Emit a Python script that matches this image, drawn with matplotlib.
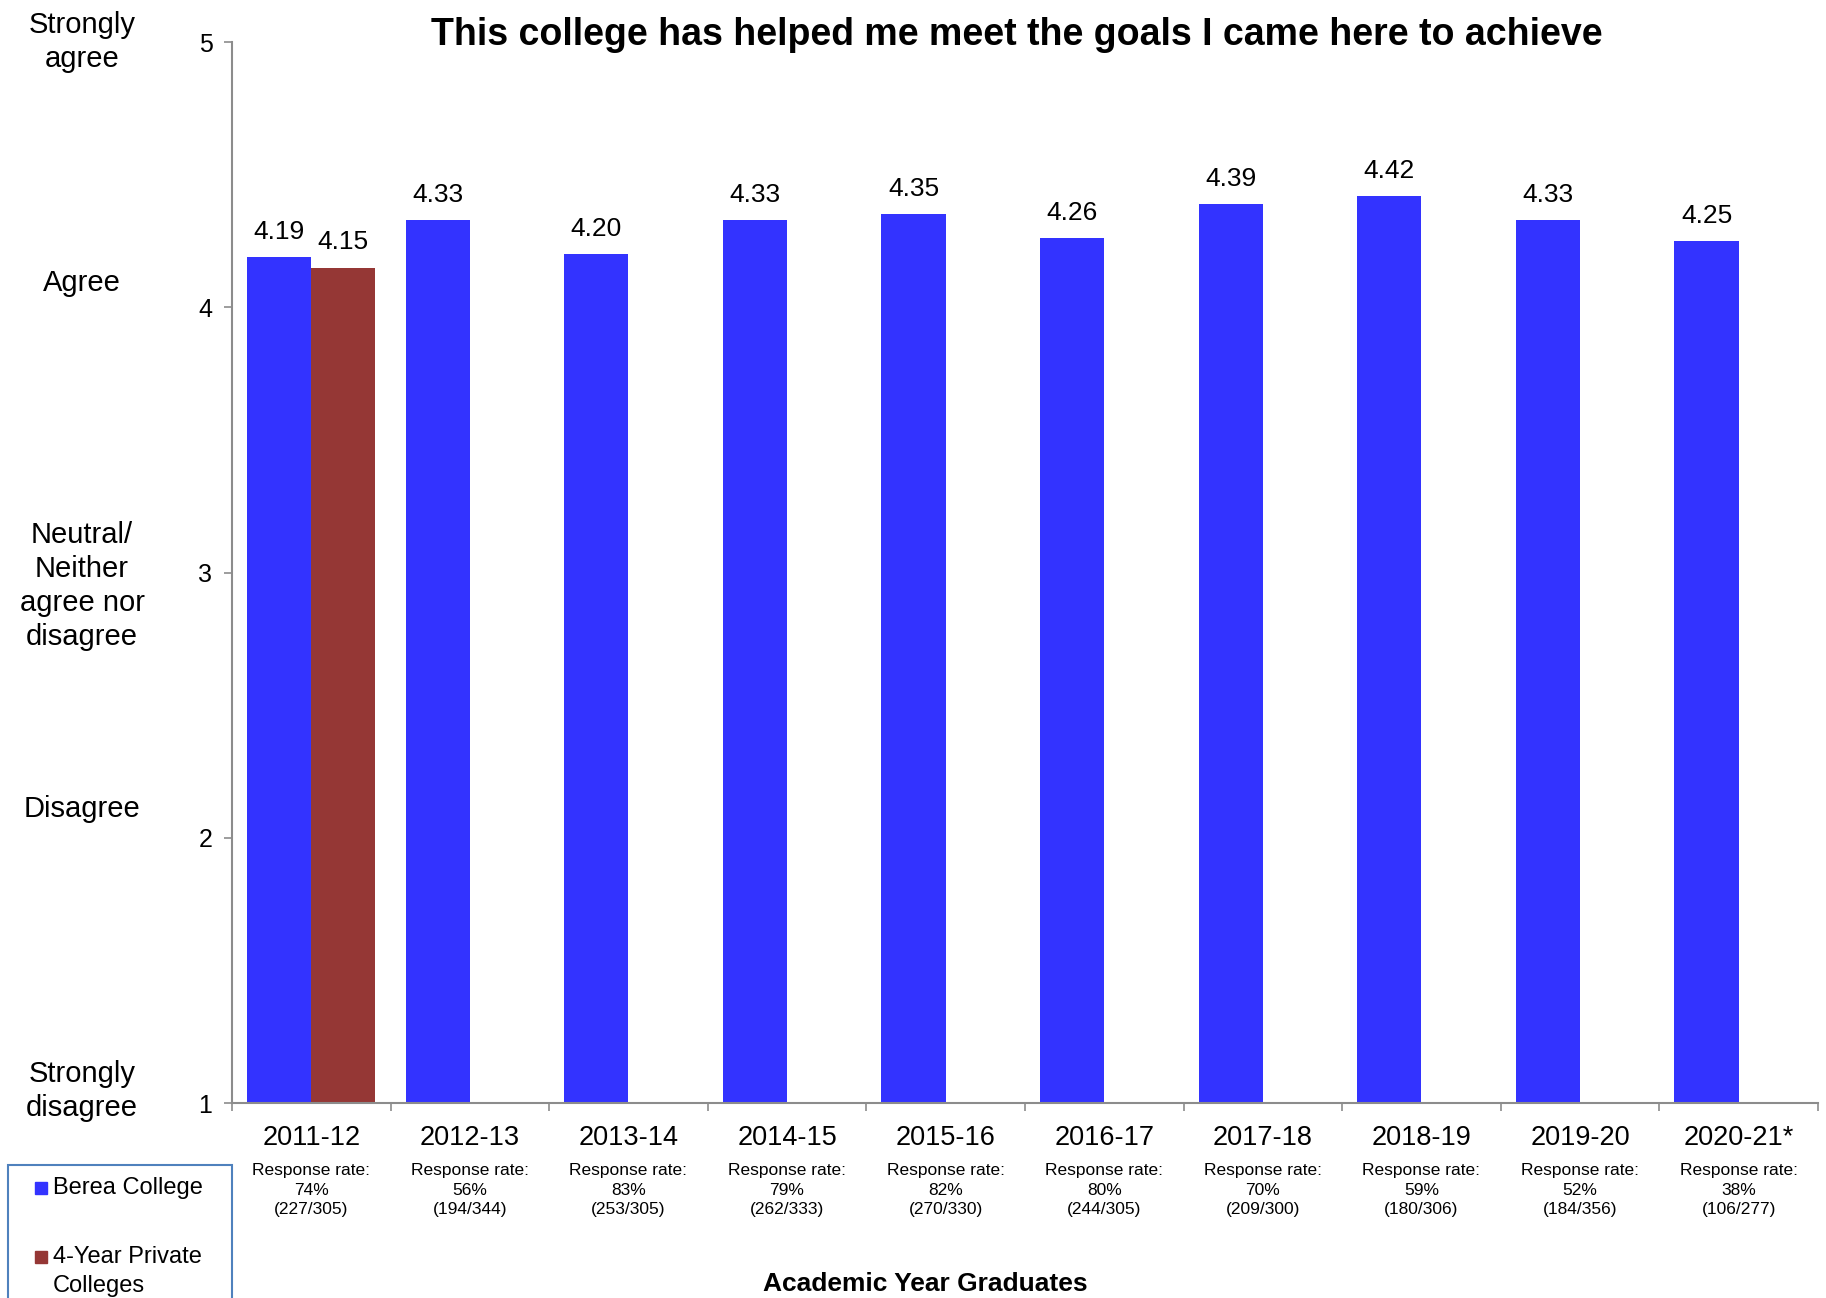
import matplotlib.pyplot as plt
import numpy as np
from matplotlib.patches import Rectangle

plt.rcParams["font.family"] = ["Liberation Sans", "DejaVu Sans"]

years = ["2011-12", "2012-13", "2013-14", "2014-15", "2015-16",
         "2016-17", "2017-18", "2018-19", "2019-20", "2020-21*"]
berea = [4.19, 4.33, 4.20, 4.33, 4.35, 4.26, 4.39, 4.42, 4.33, 4.25]
private = [4.15]  # only reported for 2011-12
response_pct = ["74%", "56%", "83%", "79%", "82%", "80%", "70%", "59%", "52%", "38%"]
response_n = ["(227/305)", "(194/344)", "(253/305)", "(262/333)", "(270/330)",
              "(244/305)", "(209/300)", "(180/306)", "(184/356)", "(106/277)"]
scale_labels = ["Strongly\ndisagree", "Disagree", "Neutral/\nNeither\nagree nor\ndisagree",
                "Agree", "Strongly\nagree"]
scale_values = [1, 2, 3, 4, 5]

BLUE = "#3333FF"
RED = "#953735"
GREY = "#8c8c8c"

fig = plt.figure(figsize=(18.26, 12.98), dpi=100)
ax = fig.add_axes([0.127, 0.1502, 0.8686, 0.8174])

x = np.arange(len(years))
width = 0.405
ax.bar(x - width / 2, berea, width, color=BLUE, zorder=2)
ax.bar(x[:len(private)] + width / 2, private, width, color=RED, zorder=2)

for xi, v in zip(x - width / 2, berea):
    ax.annotate(f"{v:.2f}", (xi, v), xytext=(0, 13), textcoords="offset points",
                ha="center", va="baseline", fontsize=19)
for xi, v in zip(x[:len(private)] + width / 2, private):
    ax.annotate(f"{v:.2f}", (xi, v), xytext=(0, 13), textcoords="offset points",
                ha="center", va="baseline", fontsize=19)

ax.set_ylim(1, 5)
ax.set_xlim(-0.5, len(years) - 0.5)
ax.set_yticks(scale_values)
ax.set_yticklabels([str(v) for v in scale_values], fontsize=18)
ax.tick_params(axis="y", length=6, width=1.2, color=GREY, pad=8)

ax.set_xticks(x)
ax.set_xticklabels(years, fontsize=19.5)
ax.tick_params(axis="x", which="major", length=0, pad=16)
ax.set_xticks(np.arange(len(years) + 1) - 0.5, minor=True)
ax.tick_params(axis="x", which="minor", length=6, width=1.2, color=GREY)

for side in ("top", "right"):
    ax.spines[side].set_visible(False)
for side in ("left", "bottom"):
    ax.spines[side].set_color(GREY)
    ax.spines[side].set_linewidth(1.5)

# agreement scale descriptors left of the tick numbers
desc_y = [1.045, 2.11, 2.95, 4.09, 5.0]
for yv, label in zip(desc_y, scale_labels):
    ax.text(-0.0945, yv, label, transform=ax.get_yaxis_transform(),
            ha="center", va="center", fontsize=21, linespacing=1.28)

# response rates under each year
for xi, pct, n in zip(x, response_pct, response_n):
    ax.annotate(f"Response rate:\n{pct}\n{n}", (xi, 0), xycoords=("data", "axes fraction"),
                xytext=(0, -43), textcoords="offset points", ha="center", va="top",
                fontsize=12.5, linespacing=1.4)

fig.text(0.557, 0.973, "This college has helped me meet the goals I came here to achieve",
         ha="center", va="center", fontsize=27, fontweight="bold")
fig.text(0.507, 0.0105, "Academic Year Graduates", ha="center", va="center",
         fontsize=19, fontweight="bold")

# legend box, partly cut off at the bottom edge like the original
fig.add_artist(Rectangle((8 / 1826, -0.02), 224 / 1826, 0.02 + 133 / 1298,
                         transform=fig.transFigure, fill=False,
                         edgecolor="#4f81bd", linewidth=1.5))
legend_items = [("Berea College", BLUE, 1 - 1188 / 1298),
                ("4-Year Private\nColleges", RED, 1 - 1257 / 1298)]
for label, color, yy in legend_items:
    fig.add_artist(Rectangle((35 / 1826, yy - 6 / 1298), 12 / 1826, 12 / 1298,
                             transform=fig.transFigure, color=color))
    for i, line in enumerate(label.split("\n")):
        fig.text(53 / 1826, yy - i * 29 / 1298, line, ha="left", va="center", fontsize=17)

fig.savefig("out.png", dpi=100)
